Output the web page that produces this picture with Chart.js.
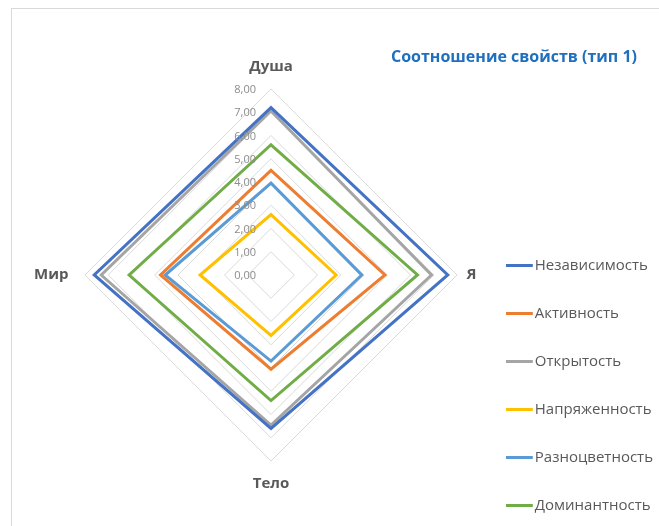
<!DOCTYPE html>
<html>
<head>
<meta charset="utf-8">
<script src="https://cdn.jsdelivr.net/npm/chart.js@4/dist/chart.umd.min.js"></script>
<style>
  html, body { margin: 0; padding: 0; background: #fff; }
  #wrap { position: relative; width: 659px; height: 526px; overflow: hidden; }
  #frame { position: absolute; left: 11px; top: 8px; width: 700px; height: 600px; border: 1px solid #d9d9d9; box-sizing: border-box; }
  canvas#c { position: absolute; left: 0; top: 0; }
</style>
</head>
<body>
<div id="wrap">
  <div id="frame"></div>
  <canvas id="c" width="659" height="526"></canvas>
</div>
<script>
const categories = ['Душа', 'Я', 'Тело', 'Мир'];
const seriesNames = ['Независимость', 'Активность', 'Открытость', 'Напряженность', 'Разноцветность', 'Доминантность'];
const nezavisimost = [7.2, 7.6, 6.6, 7.6];
const aktivnost = [4.5, 4.9, 4.05, 4.75];
const otkrytost = [7.05, 6.9, 6.45, 7.3];
const napryazhennost = [2.6, 2.8, 2.6, 3.05];
const raznotsvetnost = [3.95, 3.9, 3.7, 4.55];
const dominantnost = [5.6, 6.3, 5.4, 6.1];
const tickMin = 0, tickMax = 8, tickStep = 1;
const titleText = 'Соотношение свойств (тип 1)';

const seriesValues = [nezavisimost, aktivnost, otkrytost, napryazhennost, raznotsvetnost, dominantnost];
const colors = ['#4472C4', '#ED7D31', '#A5A5A5', '#FFC000', '#5B9BD5', '#70AD47'];
const FONT = "'Open Sans', 'Noto Sans', sans-serif";
const labelPad = [13, 9.5, 14, 16.5];

// legend line swatches (27px line inside a 42px transparent canvas)
const legendImgs = colors.map(c => {
  const cv = document.createElement('canvas');
  cv.width = 42; cv.height = 3;
  const g = cv.getContext('2d');
  g.fillStyle = c;
  g.fillRect(0, 0, 27, 3);
  return cv;
});

const tickLabelPlugin = {
  id: 'tickLabels',
  afterDatasetsDraw(chart) {
    const s = chart.scales.r;
    const ctx = chart.ctx;
    ctx.save();
    ctx.font = "11px " + FONT;
    ctx.fillStyle = '#8c8c8c';
    ctx.textAlign = 'right';
    ctx.textBaseline = 'middle';
    s.ticks.forEach(t => {
      const d = s.getDistanceFromCenterForValue(t.value);
      ctx.fillText(t.label, s.xCenter - 15, s.yCenter - d + 1);
    });
    ctx.restore();
  }
};

const titlePlugin = {
  id: 'cornerTitle',
  afterDraw(chart) {
    const ctx = chart.ctx;
    ctx.save();
    ctx.font = "bold 16px " + FONT;
    ctx.fillStyle = '#1F6FBF';
    ctx.textAlign = 'right';
    ctx.textBaseline = 'middle';
    ctx.fillText(titleText, chart.width - 22, 57);
    ctx.restore();
  }
};

new Chart(document.getElementById('c'), {
  type: 'radar',
  data: {
    labels: categories,
    datasets: seriesNames.map((n, i) => ({
      label: n,
      data: seriesValues[i],
      borderColor: colors[i],
      backgroundColor: colors[i],
      borderWidth: 3,
      fill: false,
      pointRadius: 0,
      pointHoverRadius: 0,
      tension: 0
    }))
  },
  options: {
    responsive: false,
    animation: false,
    events: [],
    layout: { padding: { left: 18, top: 26, right: -4, bottom: -20 } },
    elements: { line: { borderJoinStyle: 'miter' } },
    scales: {
      r: {
        min: tickMin,
        max: tickMax,
        ticks: {
          stepSize: tickStep,
          display: false,
          callback: v => v.toFixed(2).replace('.', ',')
        },
        grid: { color: '#d9d9d9', lineWidth: 1 },
        angleLines: { display: false },
        pointLabels: {
          color: '#595959',
          padding: ctx => labelPad[ctx.index],
          font: { family: FONT, size: 15, weight: 'bold' }
        }
      }
    },
    plugins: {
      legend: {
        position: 'right',
        align: 'end',
        labels: {
          usePointStyle: true,
          pointStyleWidth: 1,
          color: '#595959',
          padding: 33,
          font: { family: FONT, size: 15 },
          generateLabels(chart) {
            const items = Chart.defaults.plugins.legend.labels.generateLabels(chart);
            items.forEach(it => { it.pointStyle = legendImgs[it.datasetIndex]; });
            return items;
          }
        }
      },
      tooltip: { enabled: false }
    }
  },
  plugins: [tickLabelPlugin, titlePlugin]
});
</script>
</body>
</html>
